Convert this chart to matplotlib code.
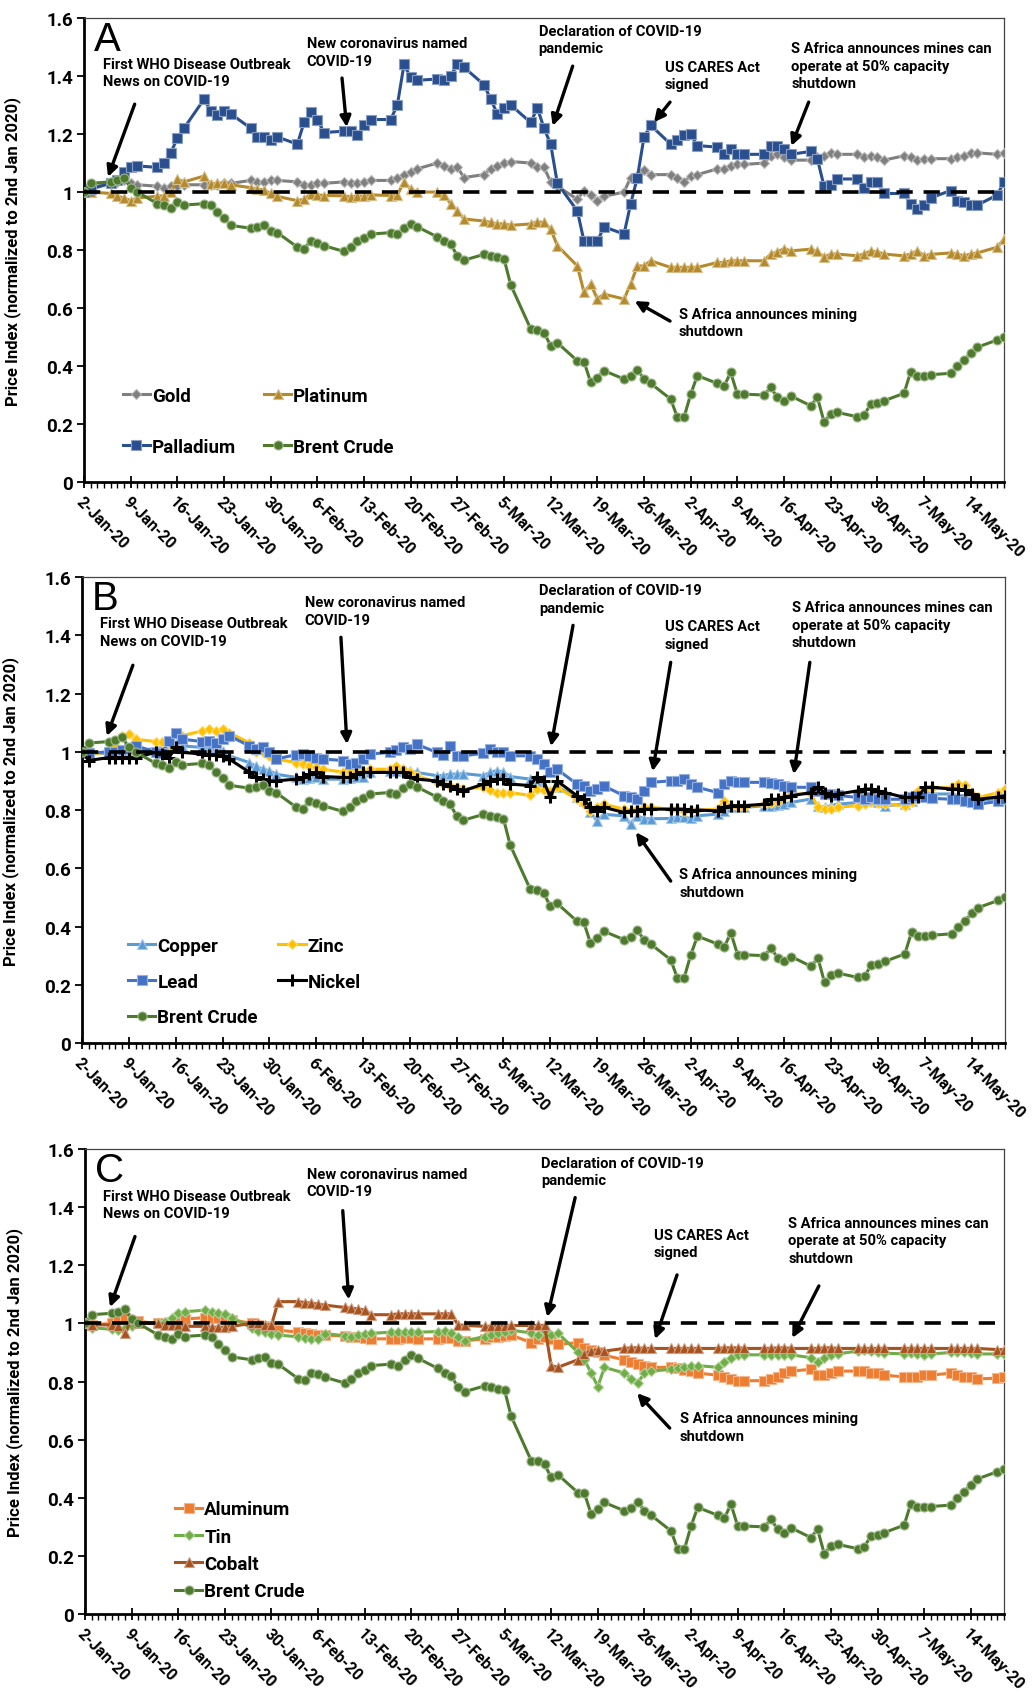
import matplotlib
matplotlib.use("Agg")
import matplotlib.pyplot as plt
import matplotlib.dates as mdates
import pandas as pd
import numpy as np

plt.rcParams['font.family'] = ['Roboto', 'DejaVu Sans']

# trading days 2-Jan-20 .. 19-May-20 (one row per week in the lists below)
dates = pd.bdate_range('2020-01-02', '2020-05-19')

brent = [1.00, 1.03,
         1.035, 1.04, 1.05, 1.015, 1.00,
         0.96, 0.955, 0.945, 0.965, 0.955,
         0.96, 0.955, 0.93, 0.91, 0.885,
         0.875, 0.88, 0.885, 0.865, 0.86,
         0.81, 0.805, 0.83, 0.825, 0.815,
         0.795, 0.81, 0.83, 0.84, 0.855,
         0.86, 0.855, 0.875, 0.89, 0.88,
         0.845, 0.83, 0.82, 0.78, 0.765,
         0.785, 0.78, 0.775, 0.77, 0.68,
         0.528, 0.525, 0.515, 0.47, 0.48,
         0.418, 0.415, 0.344, 0.36, 0.384,
         0.355, 0.365, 0.387, 0.355, 0.34,
         0.286, 0.223, 0.223, 0.303, 0.367,
         0.34, 0.33, 0.378, 0.303, 0.303,
         0.30, 0.326, 0.292, 0.28, 0.297,
         0.263, 0.292, 0.208, 0.234, 0.24,
         0.225, 0.23, 0.269, 0.272, 0.28,
         0.306, 0.38, 0.367, 0.367, 0.37,
         0.375, 0.40, 0.42, 0.445, 0.465,
         0.49, 0.50]

gold = [1.00, 1.015,
        1.03, 1.035, 1.04, 1.03, 1.025,
        1.02, 1.015, 1.02, 1.02, 1.025,
        1.025, 1.025, 1.025, 1.03, 1.03,
        1.04, 1.035, 1.035, 1.04, 1.04,
        1.035, 1.025, 1.025, 1.03, 1.03,
        1.035, 1.03, 1.03, 1.035, 1.04,
        1.04, 1.05, 1.06, 1.07, 1.08,
        1.10, 1.09, 1.08, 1.085, 1.05,
        1.06, 1.08, 1.09, 1.10, 1.105,
        1.10, 1.085, 1.085, 1.035, 1.02,
        0.975, 1.005, 0.99, 0.97, 0.985,
        1.00, 1.05, 1.055, 1.075, 1.06,
        1.06, 1.05, 1.035, 1.055, 1.06,
        1.08, 1.08, 1.09, 1.095, 1.095,
        1.10, 1.125, 1.13, 1.12, 1.11,
        1.11, 1.12, 1.125, 1.135, 1.13,
        1.13, 1.12, 1.125, 1.12, 1.11,
        1.125, 1.12, 1.11, 1.115, 1.115,
        1.115, 1.12, 1.125, 1.135, 1.135,
        1.13, 1.135]

platinum = [1.00, 1.00,
            0.995, 0.985, 0.98, 0.97, 0.98,
            0.985, 0.987, 1.00, 1.045, 1.035,
            1.055, 1.027, 1.03, 1.03, 1.025,
            1.015, 1.01, 1.007, 0.995, 0.985,
            0.97, 0.975, 0.993, 0.99, 0.988,
            0.987, 0.983, 0.987, 0.985, 0.99,
            0.988, 0.99, 1.035, 1.01, 1.00,
            1.00, 0.99, 0.96, 0.935, 0.907,
            0.90, 0.895, 0.89, 0.89, 0.885,
            0.89, 0.897, 0.895, 0.872, 0.815,
            0.745, 0.654, 0.683, 0.631, 0.648,
            0.631, 0.683, 0.745, 0.745, 0.763,
            0.74, 0.74, 0.74, 0.74, 0.74,
            0.757, 0.757, 0.763, 0.763, 0.763,
            0.763, 0.786, 0.793, 0.805, 0.797,
            0.803, 0.795, 0.775, 0.786, 0.786,
            0.78, 0.786, 0.797, 0.793, 0.786,
            0.78, 0.786, 0.797, 0.78, 0.785,
            0.79, 0.786, 0.78, 0.786, 0.79,
            0.81, 0.838]

palladium = [1.00, 1.01,
             1.03, 1.04, 1.07, 1.085, 1.09,
             1.085, 1.10, 1.135, 1.185, 1.22,
             1.32, 1.28, 1.265, 1.28, 1.27,
             1.22, 1.19, 1.19, 1.18, 1.19,
             1.165, 1.24, 1.275, 1.25, 1.205,
             1.21, 1.21, 1.195, 1.23, 1.25,
             1.25, 1.30, 1.44, 1.395, 1.385,
             1.39, 1.385, 1.40, 1.44, 1.43,
             1.37, 1.32, 1.27, 1.29, 1.30,
             1.24, 1.29, 1.22, 1.165, 1.03,
             0.935, 0.83, 0.83, 0.83, 0.88,
             0.855, 0.96, 1.05, 1.19, 1.23,
             1.165, 1.18, 1.195, 1.20, 1.16,
             1.155, 1.13, 1.15, 1.13, 1.13,
             1.13, 1.16, 1.16, 1.15, 1.13,
             1.14, 1.115, 1.02, 1.025, 1.045,
             1.045, 1.015, 1.035, 1.035, 0.995,
             0.995, 0.96, 0.94, 0.955, 0.98,
             1.005, 0.97, 0.965, 0.955, 0.955,
             0.99, 1.035]

copper = [1.00, 0.995,
          0.995, 1.00, 1.00, 1.005, 1.005,
          1.01, 1.015, 1.02, 1.025, 1.02,
          1.015, 1.009, 1.005, 1.003, 0.986,
          0.963, 0.95, 0.94, 0.935, 0.923,
          0.912, 0.906, 0.91, 0.912, 0.906,
          0.906, 0.91, 0.912, 0.915, 0.929,
          0.935, 0.935, 0.94, 0.935, 0.929,
          0.918, 0.918, 0.923, 0.923, 0.925,
          0.918, 0.929, 0.935, 0.93, 0.915,
          0.906, 0.895, 0.883, 0.86, 0.88,
          0.843, 0.83, 0.792, 0.763, 0.785,
          0.78, 0.752, 0.78, 0.77, 0.77,
          0.771, 0.775, 0.775, 0.771, 0.78,
          0.786, 0.797, 0.809, 0.809, 0.809,
          0.815, 0.815, 0.818, 0.82, 0.826,
          0.838, 0.815, 0.809, 0.815, 0.82,
          0.826, 0.832, 0.832, 0.826, 0.815,
          0.82, 0.832, 0.849, 0.855, 0.855,
          0.855, 0.849, 0.838, 0.838, 0.832,
          0.84, 0.849]

zinc = [1.00, 0.99,
        1.00, 1.02, 1.055, 1.06, 1.043,
        1.035, 1.032, 1.027, 1.066, 1.055,
        1.072, 1.078, 1.072, 1.078, 1.066,
        1.03, 1.00, 0.998, 0.986, 0.975,
        0.963, 0.958, 0.952, 0.946, 0.94,
        0.93, 0.93, 0.935, 0.935, 0.94,
        0.94, 0.952, 0.94, 0.929, 0.918,
        0.895, 0.889, 0.883, 0.88, 0.872,
        0.878, 0.87, 0.86, 0.86, 0.86,
        0.85, 0.872, 0.87, 0.866, 0.878,
        0.837, 0.82, 0.797, 0.81, 0.82,
        0.803, 0.797, 0.803, 0.809, 0.809,
        0.803, 0.803, 0.797, 0.80, 0.80,
        0.803, 0.832, 0.815, 0.81, 0.81,
        0.82, 0.825, 0.83, 0.843, 0.855,
        0.855, 0.809, 0.803, 0.803, 0.81,
        0.815, 0.82, 0.826, 0.823, 0.82,
        0.815, 0.826, 0.866, 0.87, 0.875,
        0.878, 0.889, 0.885, 0.855, 0.843,
        0.86, 0.872]

lead = [1.00, 0.995,
        1.00, 1.00, 1.005, 1.01, 1.02,
        1.00, 0.995, 1.038, 1.066, 1.043,
        1.035, 1.037, 1.03, 1.043, 1.055,
        1.02, 1.009, 1.015, 0.998, 0.975,
        0.99, 0.992, 0.985, 0.98, 0.975,
        0.97, 0.958, 0.963, 0.975, 0.992,
        0.998, 1.005, 1.015, 1.01, 1.026,
        0.998, 0.99, 1.02, 0.986, 0.986,
        0.995, 1.009, 0.998, 0.998, 0.986,
        0.986, 0.975, 0.958, 0.93, 0.94,
        0.889, 0.883, 0.866, 0.872, 0.883,
        0.849, 0.843, 0.837, 0.866, 0.895,
        0.90, 0.90, 0.906, 0.889, 0.878,
        0.86, 0.889, 0.90, 0.895, 0.895,
        0.895, 0.893, 0.89, 0.883, 0.878,
        0.878, 0.866, 0.855, 0.855, 0.85,
        0.843, 0.837, 0.843, 0.837, 0.837,
        0.837, 0.843, 0.849, 0.843, 0.84,
        0.837, 0.837, 0.832, 0.826, 0.82,
        0.83, 0.837]

nickel = [1.00, 0.97,
          0.98, 0.98, 0.98, 0.98, 0.98,
          0.998, 0.992, 0.98, 1.015, 0.998,
          0.992, 0.99, 0.99, 0.985, 0.975,
          0.93, 0.912, 0.906, 0.90, 0.90,
          0.906, 0.912, 0.923, 0.929, 0.915,
          0.912, 0.912, 0.923, 0.929, 0.929,
          0.929, 0.929, 0.929, 0.912, 0.906,
          0.90, 0.889, 0.883, 0.872, 0.866,
          0.889, 0.90, 0.906, 0.906, 0.889,
          0.884, 0.915, 0.90, 0.843, 0.90,
          0.849, 0.837, 0.809, 0.797, 0.809,
          0.792, 0.797, 0.797, 0.803, 0.803,
          0.803, 0.803, 0.803, 0.797, 0.80,
          0.797, 0.809, 0.815, 0.815, 0.815,
          0.82, 0.837, 0.837, 0.843, 0.849,
          0.86, 0.878, 0.86, 0.849, 0.855,
          0.866, 0.872, 0.872, 0.866, 0.86,
          0.843, 0.843, 0.845, 0.878, 0.878,
          0.872, 0.872, 0.868, 0.855, 0.837,
          0.845, 0.849]

aluminum = [1.00, 0.995,
            1.00, 1.015, 1.02, 1.01, 1.007,
            1.00, 1.00, 1.005, 1.013, 1.015,
            1.02, 1.02, 1.02, 1.017, 1.013,
            1.00, 0.993, 0.99, 0.987, 0.977,
            0.97, 0.967, 0.963, 0.96, 0.96,
            0.956, 0.954, 0.954, 0.95, 0.947,
            0.947, 0.947, 0.95, 0.95, 0.947,
            0.947, 0.95, 0.95, 0.94, 0.94,
            0.947, 0.954, 0.954, 0.957, 0.96,
            0.934, 0.945, 0.954, 0.947, 0.928,
            0.934, 0.914, 0.908, 0.901, 0.89,
            0.875, 0.868, 0.862, 0.855, 0.849,
            0.849, 0.845, 0.84, 0.835, 0.829,
            0.822, 0.815, 0.809, 0.803, 0.803,
            0.803, 0.809, 0.815, 0.829, 0.836,
            0.842, 0.822, 0.822, 0.829, 0.836,
            0.836, 0.836, 0.829, 0.829, 0.822,
            0.816, 0.816, 0.816, 0.822, 0.822,
            0.829, 0.822, 0.816, 0.816, 0.809,
            0.812, 0.816]

tin = [1.00, 0.985,
       0.98, 0.977, 0.985, 0.99, 1.00,
       1.00, 1.005, 1.017, 1.035, 1.04,
       1.046, 1.04, 1.035, 1.033, 1.02,
       0.985, 0.975, 0.971, 0.965, 0.96,
       0.954, 0.95, 0.948, 0.945, 0.965,
       0.958, 0.955, 0.96, 0.965, 0.966,
       0.97, 0.971, 0.972, 0.97, 0.97,
       0.972, 0.974, 0.968, 0.954, 0.94,
       0.955, 0.96, 0.967, 0.97, 0.977,
       0.967, 0.96, 0.974, 0.96, 0.967,
       0.901, 0.875, 0.829, 0.783, 0.849,
       0.829, 0.81, 0.796, 0.829, 0.836,
       0.842, 0.846, 0.85, 0.855, 0.855,
       0.849, 0.868, 0.882, 0.892, 0.892,
       0.892, 0.89, 0.892, 0.89, 0.892,
       0.882, 0.868, 0.88, 0.892, 0.895,
       0.905, 0.908, 0.905, 0.90, 0.898,
       0.895, 0.898, 0.895, 0.892, 0.895,
       0.90, 0.90, 0.90, 0.898, 0.895,
       0.895, 0.895]

cobalt = [1.00, 0.995,
          0.995, 0.99, 0.967, 1.015, 1.00,
          1.00, 0.995, 0.995, 0.995, 0.99,
          0.99, 0.987, 0.987, 0.987, 0.99,
          1.00, 1.00, 0.995, 0.995, 1.075,
          1.075, 1.072, 1.07, 1.066, 1.063,
          1.055, 1.052, 1.05, 1.046, 1.03,
          1.03, 1.033, 1.033, 1.033, 1.033,
          1.033, 1.033, 1.033, 0.995, 0.993,
          0.99, 0.99, 0.99, 0.99, 0.993,
          0.993, 0.993, 0.993, 0.855, 0.849,
          0.875, 0.895, 0.905, 0.908, 0.905,
          0.914, 0.916, 0.916, 0.914, 0.914,
          0.914, 0.914, 0.914, 0.914, 0.914,
          0.914, 0.916, 0.916, 0.916, 0.914,
          0.914, 0.914, 0.916, 0.916, 0.914,
          0.914, 0.914, 0.916, 0.916, 0.914,
          0.914, 0.914, 0.914, 0.914, 0.914,
          0.914, 0.914, 0.914, 0.914, 0.914,
          0.914, 0.914, 0.914, 0.914, 0.914,
          0.91, 0.91]

# name, values, color, marker, marker size
brent_s = ('Brent Crude', brent, '#4E7A2E', 'o', 6.5)
panel_a = [('Gold', gold, '#7F7F7F', 'D', 5),
           ('Platinum', platinum, '#B48A2C', '^', 7),
           ('Palladium', palladium, '#2A4F8F', 's', 6.5),
           brent_s]
panel_b = [('Copper', copper, '#5B9BD5', '^', 7),
           ('Zinc', zinc, '#FFC000', 'D', 5),
           ('Lead', lead, '#4472C4', 's', 6.5),
           ('Nickel', nickel, '#000000', '+', 8),
           brent_s]
panel_c = [('Aluminum', aluminum, '#ED7D31', 's', 6.5),
           ('Tin', tin, '#70AD47', 'D', 5),
           ('Cobalt', cobalt, '#A8521E', '^', 7),
           brent_s]

t_who = 'First WHO Disease Outbreak\nNews on COVID-19'
t_name = 'New coronavirus named\nCOVID-19'
t_decl = 'Declaration of COVID-19\npandemic'
t_cares = 'US CARES Act\nsigned'
t_mines = 'S Africa announces mines can\noperate at 50% capacity\nshutdown'
t_shut = 'S Africa announces mining\nshutdown'

# text, text (day, value), arrow tail (day, value), arrow head (day, value)
notes_a = [(t_who, 2.85, 1.465, 7.6, 1.303, 3.6, 1.052),
           (t_name, 33.4, 1.537, 38.7, 1.393, 39.4, 1.224),
           (t_decl, 68.2, 1.579, 73.3, 1.434, 70.3, 1.228),
           (t_cares, 87.1, 1.455, 87.9, 1.31, 85.5, 1.241),
           (t_mines, 106.1, 1.52, 108.7, 1.31, 106.1, 1.159),
           (t_shut, 89.2, 0.603, 87.9, 0.555, 82.6, 0.624)]
notes_b = [(t_who, 2.7, 1.465, 7.6, 1.297, 3.7, 1.054),
           (t_name, 33.3, 1.537, 38.7, 1.393, 39.6, 1.026),
           (t_decl, 68.3, 1.578, 73.4, 1.434, 70.1, 1.019),
           (t_cares, 87.1, 1.455, 88.0, 1.307, 85.3, 0.933),
           (t_mines, 106.1, 1.52, 108.8, 1.307, 106.4, 0.923),
           (t_shut, 89.3, 0.603, 88.0, 0.556, 82.8, 0.724)]
notes_c = [(t_who, 2.7, 1.462, 7.5, 1.299, 3.75, 1.056),
           (t_name, 33.3, 1.538, 38.7, 1.388, 39.6, 1.082),
           (t_decl, 68.5, 1.576, 73.6, 1.433, 69.4, 1.022),
           (t_cares, 85.4, 1.328, 88.9, 1.167, 85.6, 0.946),
           (t_mines, 105.6, 1.369, 110.2, 1.129, 106.2, 0.95),
           (t_shut, 89.3, 0.698, 87.8, 0.64, 82.9, 0.76)]

yticks = [0, 0.2, 0.4, 0.6, 0.8, 1.0, 1.2, 1.4, 1.6]
ylabels = ['0', '0.2', '0.4', '0.6', '0.8', '1', '1.2', '1.4', '1.6']
base = pd.Timestamp('2020-01-02')


def day(d):
    return mdates.date2num(base + pd.Timedelta(days=d))


def lighten(c, f=0.45):
    rgb = np.array(matplotlib.colors.to_rgb(c))
    return tuple(rgb + (1 - rgb) * f)


def draw_panel(ax, letter, series, notes, leg_order, leg_anchor, leg_ncol,
               leg_spacing, col_spacing):
    lines = {}
    for name, vals, col, mk, ms in series:
        mew = 2.2 if mk == '+' else 0.8
        mec = col if mk == '+' else lighten(col)
        ln, = ax.plot(dates, vals, color=col, lw=2.2, marker=mk, ms=ms,
                      mfc=col, mec=mec, mew=mew, label=name, zorder=3)
        lines[name] = ln
    ax.axhline(1.0, color='black', lw=2.6, ls=(0, (4.5, 3)), zorder=5)

    ax.set_ylim(0, 1.6)
    ax.set_yticks(yticks)
    ax.set_yticklabels(ylabels, fontsize=13.5, fontweight='bold')
    ax.set_xlim(day(0), day(138))
    ax.set_xticks(pd.date_range('2020-01-02', '2020-05-14', freq='7D'))
    ax.xaxis.set_major_formatter(mdates.DateFormatter('%-d-%b-%y'))
    ax.xaxis.set_minor_locator(mdates.DayLocator())
    for lab in ax.get_xticklabels():
        lab.set_rotation(-45)
        lab.set_ha('left')
        lab.set_va('top')
        lab.set_rotation_mode('anchor')
        lab.set_fontsize(11.5)
        lab.set_fontweight('bold')
    ax.tick_params(axis='x', which='major', direction='inout', length=9,
                   width=1.3, pad=4)
    ax.tick_params(axis='x', which='minor', direction='out', length=4,
                   width=1.0)
    ax.tick_params(axis='y', direction='out', length=5, width=1.3, pad=3)
    for s in ['left', 'bottom']:
        ax.spines[s].set_linewidth(2.0)
    for s in ['top', 'right']:
        ax.spines[s].set_linewidth(0.9)
        ax.spines[s].set_color('#444444')

    ax.set_ylabel('Price Index (normalized to 2nd Jan 2020)', fontsize=12,
                  fontweight='bold')
    ax.yaxis.set_label_coords(-0.068, 0.5)

    ax.text(0.011, 0.995, letter, transform=ax.transAxes, ha='left',
            va='top', fontsize=29, family='Liberation Sans')

    for txt, tx, ty, ax0, ay0, ax1, ay1 in notes:
        ax.text(day(tx), ty, txt, ha='left', va='top', fontsize=10.6,
                fontweight='bold', linespacing=1.3, zorder=6)
        ax.annotate('', xy=(day(ax1), ay1), xytext=(day(ax0), ay0),
                    arrowprops=dict(arrowstyle='-|>', color='black', lw=2.4,
                                    mutation_scale=16, shrinkA=0, shrinkB=0),
                    zorder=6)

    handles = [lines[n] for n in leg_order]
    ax.legend(handles=handles, loc='upper left', bbox_to_anchor=leg_anchor,
              ncol=leg_ncol, frameon=False, borderpad=0, borderaxespad=0,
              handlelength=1.45, handletextpad=0.1,
              labelspacing=leg_spacing, columnspacing=col_spacing,
              prop=dict(family='Roboto', weight='bold', size=13.5))


fig = plt.figure(figsize=(10.32, 16.99), dpi=100)
ax_a = fig.add_axes([0.0814, 0.7157, 0.8915, 0.2731])
ax_b = fig.add_axes([0.0795, 0.3855, 0.8945, 0.2743])
ax_c = fig.add_axes([0.0824, 0.0494, 0.8905, 0.2737])

draw_panel(ax_a, 'A', panel_a, notes_a,
           ['Gold', 'Palladium', 'Platinum', 'Brent Crude'],
           (0.042, 0.205), 2, 1.75, 1.5)
draw_panel(ax_b, 'B', panel_b, notes_b,
           ['Copper', 'Lead', 'Brent Crude', 'Zinc', 'Nickel'],
           (0.050, 0.228), 2, 0.95, 1.1)
draw_panel(ax_c, 'C', panel_c, notes_c,
           ['Aluminum', 'Tin', 'Cobalt', 'Brent Crude'],
           (0.098, 0.245), 1, 0.5, 1.0)

fig.savefig('out.png', dpi=100)
